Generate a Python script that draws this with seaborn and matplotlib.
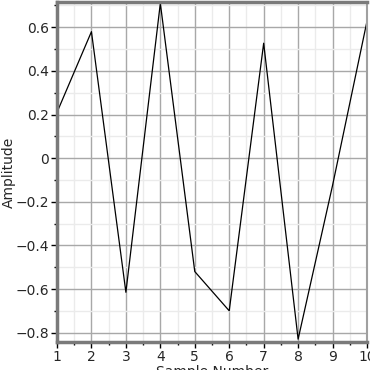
import matplotlib
matplotlib.use("Agg")
import matplotlib.pyplot as plt
import seaborn as sns
import pandas as pd
from matplotlib.ticker import MultipleLocator

sample = [1, 2, 3, 4, 5, 6, 7, 8, 9, 10]
amplitude = [0.21, 0.58, -0.615, 0.71, -0.52, -0.70, 0.527, -0.83, -0.125, 0.628]
xticks = [1, 2, 3, 4, 5, 6, 7, 8, 9, 10]
yticks = [-0.8, -0.6, -0.4, -0.2, 0, 0.2, 0.4, 0.6]
ytick_labels = ["\u22120.8", "\u22120.6", "\u22120.4", "\u22120.2", "0", "0.2", "0.4", "0.6"]

df = pd.DataFrame({"Sample Number": sample, "Amplitude": amplitude})

sns.set_style("white")
plt.rcParams['font.family'] = ['DejaVu Sans']

fig = plt.figure(figsize=(3.7, 3.7), dpi=100)
ax = fig.add_axes([57/370, 28/370, 310/370, 340/370])

ax.grid(True, which="minor", color="#ebebeb", linewidth=1.0, zorder=0)
ax.grid(True, which="major", color="#a8a8a8", linewidth=1.0, zorder=0)
ax.set_axisbelow(True)

sns.lineplot(data=df, x="Sample Number", y="Amplitude", color="black",
             linewidth=0.9, ax=ax)

ax.set_xlim(1, 10)
ax.set_ylim(-0.843, 0.716)
ax.set_xticks(xticks)
ax.set_xticklabels([str(v) for v in xticks])
ax.set_yticks(yticks)
ax.set_yticklabels(ytick_labels)
ax.xaxis.set_minor_locator(MultipleLocator(0.5))
ax.yaxis.set_minor_locator(MultipleLocator(0.1))

ax.tick_params(which="both", bottom=True, left=True, top=False, right=False,
               direction="out", color="black", width=1)
ax.tick_params(which="major", length=4, labelsize=10, pad=1.5)
ax.tick_params(which="minor", length=2.5)

for side in ["top", "left", "bottom"]:
    ax.spines[side].set_color("#7a7a7a")
    ax.spines[side].set_linewidth(2.5)
ax.spines["right"].set_color("#a0a0a0")
ax.spines["right"].set_linewidth(1.5)

ax.set_xlabel("Sample Number", fontsize=10, labelpad=1)
ax.set_ylabel("Amplitude", fontsize=10, labelpad=0)

fig.savefig("out.png", dpi=100)
